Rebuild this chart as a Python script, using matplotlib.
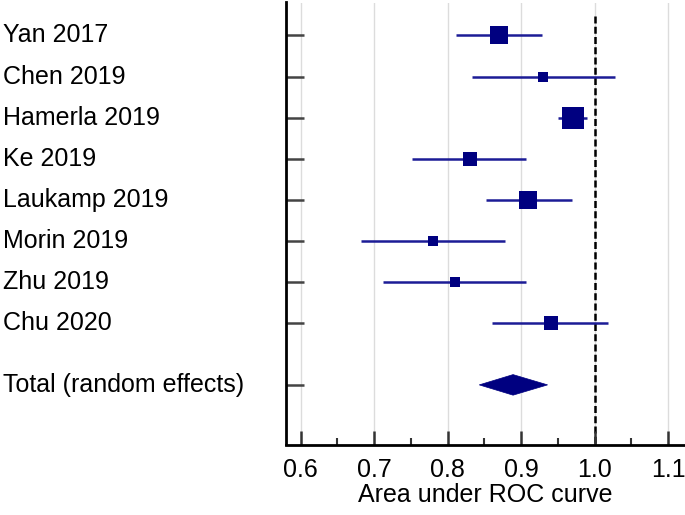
"""
Forest plot: area under ROC curve per study with random-effects total.
"""

import matplotlib
matplotlib.use('Agg')
import matplotlib.pyplot as plt
import matplotlib.transforms as mtransforms
from matplotlib.patches import Polygon
from matplotlib.ticker import MultipleLocator

OUTPUT_IMAGE = 'out.png'

# Study data
studies = ['Yan 2017', 'Chen 2019', 'Hamerla 2019', 'Ke 2019',
           'Laukamp 2019', 'Morin 2019', 'Zhu 2019', 'Chu 2020']
auc = [0.870, 0.930, 0.970, 0.830, 0.910, 0.780, 0.810, 0.940]
ci_low = [0.811, 0.833, 0.950, 0.752, 0.852, 0.682, 0.712, 0.861]
ci_high = [0.929, 1.028, 0.989, 0.907, 0.969, 0.878, 0.907, 1.018]
weights = [17.9, 4.7, 28.4, 9.8, 18.5, 5.5, 5.5, 9.8]  # % (random effects)

total_label = 'Total (random effects)'
total_auc = 0.889
total_low = 0.843
total_high = 0.936

x_ticks = [0.6, 0.7, 0.8, 0.9, 1.0, 1.1]

NAVY = '#000080'
LINE = '#1c1c96'
FONT = 'Liberation Sans'

plt.rcParams['font.family'] = FONT
plt.rcParams['font.size'] = 18

fig = plt.figure(figsize=(6.85, 5.15), dpi=100)
ax = fig.add_axes([286 / 685, 70.5 / 515, 399 / 685, 442 / 515])

rows = list(range(1, len(studies) + 1))
total_row = len(studies) + 1.5

# grid
for t in x_ticks:
    ax.axvline(t, color='#dcdcdc', lw=1.0, zorder=0)

# reference line at 1.0
ax.plot([1.0, 1.0], [0.54, 11], color='black', lw=1.8,
        dashes=(2.8, 1.3), zorder=1)

# confidence intervals and weighted squares
for y, m, lo, hi, w in zip(rows, auc, ci_low, ci_high, weights):
    ax.plot([lo, hi], [y, y], color=LINE, lw=1.8, zorder=2,
            solid_capstyle='butt')
    ax.plot(m, y, marker='s', color=NAVY, markersize=3.07 * w ** 0.5,
            markeredgewidth=0, zorder=3)

# pooled estimate diamond
h = 0.25
diamond = Polygon([(total_low, total_row), (total_auc, total_row - h),
                   (total_high, total_row), (total_auc, total_row + h)],
                  closed=True, facecolor=NAVY, edgecolor=NAVY, lw=0.5, zorder=3)
ax.add_patch(diamond)

# study labels at the far left of the figure
trans = mtransforms.blended_transform_factory(fig.transFigure, ax.transData)
for y, name in zip(rows + [total_row], studies + [total_label]):
    ax.text(3 / 685, y, name, transform=trans, ha='left', va='center',
            fontsize=18, color='black')

ax.set_xlim(0.58, 1.123)
ax.set_ylim(10.95, 0.2)

ax.set_xticks(x_ticks)
ax.set_xticklabels([f'{t:.1f}' for t in x_ticks])
ax.xaxis.set_minor_locator(MultipleLocator(0.05))
ax.tick_params(axis='x', which='major', direction='in', length=10, width=1.8,
               color='#333333', pad=10, labelsize=18)
ax.tick_params(axis='x', which='minor', direction='in', length=5, width=1.5,
               color='#333333')

ax.set_yticks(rows + [total_row])
ax.set_yticklabels([])
ax.tick_params(axis='y', which='major', direction='in', length=13, width=1.8,
               color='#444444')

ax.set_xlabel('Area under ROC curve', fontsize=18, labelpad=0.5)

ax.spines['top'].set_visible(False)
ax.spines['right'].set_visible(False)
ax.spines['left'].set_linewidth(2)
ax.spines['bottom'].set_linewidth(2)

fig.savefig(OUTPUT_IMAGE, dpi=100, facecolor='white')
plt.close(fig)
